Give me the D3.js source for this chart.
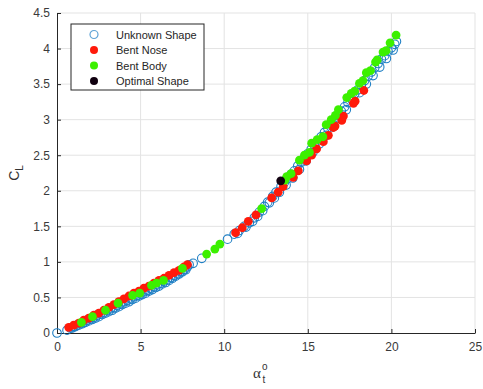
<!DOCTYPE html>
<html>
<head>
<meta charset="utf-8">
<script src="https://cdn.jsdelivr.net/npm/d3@7"></script>
<style>
  body { margin: 0; background: #fff; }
  svg { display: block; font-family: "Liberation Sans", Arial, sans-serif; }
</style>
</head>
<body>
<div id="chart"></div>
<script>
// CL vs alpha_t
const unknownShape = [
  [0, 0], [0.8, 0.07], [1.0, 0.09], [1.2, 0.11], [1.4, 0.13], [1.6, 0.15], [1.8, 0.18], [2.0, 0.2],
  [2.2, 0.22], [2.4, 0.25], [2.6, 0.27], [2.8, 0.29], [3.0, 0.32], [3.2, 0.34], [3.4, 0.36], [3.6, 0.39],
  [3.8, 0.41], [4.0, 0.44], [4.2, 0.46], [4.4, 0.48], [4.6, 0.51], [4.8, 0.53], [5.0, 0.55], [5.2, 0.58],
  [5.4, 0.6], [5.6, 0.63], [5.8, 0.65], [6.0, 0.68], [6.2, 0.7], [6.4, 0.73], [6.6, 0.75], [6.8, 0.78],
  [7.0, 0.81], [7.2, 0.83], [7.4, 0.86], [7.6, 0.89], [7.8, 0.93], [7.9, 0.96], [8.14, 0.98], [8.66, 1.05],
  [10.2, 1.32], [10.6, 1.39], [10.9, 1.44], [11.2, 1.5], [11.5, 1.55], [11.8, 1.62], [12.1, 1.7], [12.4, 1.78],
  [12.6, 1.84], [12.9, 1.92], [13.1, 1.98], [13.4, 2.06], [13.6, 2.12], [13.8, 2.17], [14.0, 2.23], [14.2, 2.28],
  [14.4, 2.35], [14.6, 2.4], [14.8, 2.47], [15.0, 2.52], [15.2, 2.58], [15.4, 2.64], [15.6, 2.7], [15.8, 2.76],
  [16.0, 2.82], [16.2, 2.88], [16.4, 2.95], [16.6, 3.0], [16.8, 3.06], [17.0, 3.12], [17.2, 3.18], [17.4, 3.24],
  [17.6, 3.3], [17.8, 3.36], [18.0, 3.42], [18.2, 3.48], [18.4, 3.55], [18.6, 3.61], [18.8, 3.67], [19.0, 3.73],
  [19.2, 3.79], [19.4, 3.85], [19.6, 3.9], [19.8, 3.96], [20.0, 4.01], [20.2, 4.06], [20.3, 4.1],
  // second, lower row of the band
  [0.6, 0.04], [0.9, 0.07], [1.1, 0.09], [1.3, 0.11], [1.5, 0.13], [1.7, 0.15], [1.9, 0.17], [2.1, 0.19],
  [2.3, 0.21], [2.5, 0.23], [2.7, 0.26], [2.9, 0.28], [3.1, 0.3], [3.3, 0.32], [3.5, 0.35], [3.7, 0.37],
  [3.9, 0.4], [4.1, 0.42], [4.3, 0.44], [4.5, 0.47], [4.7, 0.49], [4.9, 0.52], [5.1, 0.54], [5.3, 0.56],
  [5.5, 0.59], [5.7, 0.61], [5.9, 0.64], [6.1, 0.66], [6.3, 0.69], [6.5, 0.71], [6.7, 0.74], [6.9, 0.77],
  [7.1, 0.8], [7.3, 0.83], [7.5, 0.86], [7.7, 0.89],
  [10.8, 1.4], [11.3, 1.49], [11.7, 1.57], [12.0, 1.64], [12.3, 1.72], [12.7, 1.83], [13.0, 1.9], [13.3, 1.98],
  [13.7, 2.08], [14.1, 2.18], [14.5, 2.3], [14.9, 2.42], [15.3, 2.54], [15.7, 2.66], [16.1, 2.78], [16.5, 2.9],
  [16.9, 3.02], [17.3, 3.14], [17.7, 3.26], [18.1, 3.38], [18.5, 3.5], [18.9, 3.62], [19.3, 3.74], [19.7, 3.86],
  [20.1, 3.98]
];

const bentNose = [
  [0.7, 0.08], [1.0, 0.11], [1.3, 0.14], [1.6, 0.18], [1.9, 0.21], [2.2, 0.25], [2.5, 0.28], [2.8, 0.32],
  [3.1, 0.36], [3.4, 0.4], [3.7, 0.44], [4.0, 0.48], [4.3, 0.52], [4.6, 0.56], [4.9, 0.59], [5.2, 0.63],
  [5.5, 0.66], [5.8, 0.7], [6.1, 0.74], [6.4, 0.77], [6.7, 0.81], [7.0, 0.85], [7.3, 0.88], [7.6, 0.93],
  [7.8, 0.96], [10.68, 1.41], [11.08, 1.48], [11.44, 1.57], [11.9, 1.66], [12.84, 1.9], [13.23, 1.98],
  [13.53, 2.06], [14.13, 2.19], [14.43, 2.28], [14.93, 2.42], [15.23, 2.5], [15.53, 2.59], [15.93, 2.69],
  [16.23, 2.78], [16.53, 2.89], [16.63, 2.91], [17.03, 2.99], [17.13, 3.05], [17.73, 3.23], [17.83, 3.26],
  [18.35, 3.41]
];

const bentBody = [
  [1.46, 0.15], [2.12, 0.23], [2.9, 0.32], [3.65, 0.42], [4.52, 0.53], [4.95, 0.56], [5.65, 0.67],
  [5.95, 0.7], [6.37, 0.74], [7.5, 0.91], [8.95, 1.11], [9.44, 1.18], [9.74, 1.25], [12.24, 1.75],
  [13.63, 2.15], [13.74, 2.2], [14.0, 2.24], [14.5, 2.43], [14.8, 2.5], [15.1, 2.54], [15.23, 2.67],
  [15.56, 2.72], [15.9, 2.76], [16.1, 2.93], [16.4, 3.0], [16.65, 3.06], [16.83, 3.14], [17.33, 3.31],
  [17.6, 3.37], [17.8, 3.4], [18.09, 3.51], [18.3, 3.55], [18.5, 3.66], [18.75, 3.69], [19.05, 3.81],
  [19.15, 3.84], [19.5, 3.95], [19.68, 3.97], [19.92, 4.08], [20.28, 4.19]
];

const optimalShape = [[13.38, 2.14]];

const xTicks = [0, 5, 10, 15, 20, 25];
const yTicks = [0, 0.5, 1, 1.5, 2, 2.5, 3, 3.5, 4, 4.5];
const legendNames = ["Unknown Shape", "Bent Nose", "Bent Body", "Optimal Shape"];

const W = 483, H = 389;
const margin = { top: 13, right: 8, bottom: 56, left: 57 };
const width = W - margin.left - margin.right;
const height = H - margin.top - margin.bottom;

const svg = d3.select("#chart").append("svg")
  .attr("width", W)
  .attr("height", H);

const g = svg.append("g")
  .attr("transform", `translate(${margin.left}, ${margin.top})`);

const x = d3.scaleLinear().domain([0, 25]).range([0, width]);
const y = d3.scaleLinear().domain([0, 4.5]).range([height, 0]);

// grid
g.append("g").selectAll("line")
  .data(xTicks.slice(1))
  .enter().append("line")
  .attr("x1", d => x(d)).attr("x2", d => x(d))
  .attr("y1", 0).attr("y2", height)
  .attr("stroke", "#e3e3e3").attr("stroke-width", 1);

g.append("g").selectAll("line")
  .data(yTicks.slice(1))
  .enter().append("line")
  .attr("x1", 0).attr("x2", width)
  .attr("y1", d => y(d)).attr("y2", d => y(d))
  .attr("stroke", "#e3e3e3").attr("stroke-width", 1);

// axes (ticks pointing inward like matlab)
const xAxis = g.append("g")
  .attr("transform", `translate(0, ${height})`)
  .call(d3.axisBottom(x).tickValues(xTicks).tickSizeInner(-4).tickSizeOuter(0).tickPadding(9));

const yAxis = g.append("g")
  .call(d3.axisLeft(y).tickValues(yTicks).tickSizeInner(-4).tickSizeOuter(0).tickPadding(7)
    .tickFormat(d3.format("")));

[xAxis, yAxis].forEach(ax => {
  ax.select(".domain").attr("stroke", "#262626");
  ax.selectAll(".tick line").attr("stroke", "#262626");
  ax.selectAll("text").attr("fill", "#3a3a3a").style("font-size", "12px")
    .style("font-family", "'Liberation Sans', Arial, sans-serif");
});

// points
const dots = g.append("g");

dots.selectAll(".unknown")
  .data(unknownShape)
  .enter().append("circle")
  .attr("class", "unknown")
  .attr("cx", d => x(d[0])).attr("cy", d => y(d[1]))
  .attr("r", 4.3)
  .attr("fill", "none")
  .attr("stroke", "#1f7fc4")
  .attr("stroke-width", 1.1);

dots.selectAll(".nose")
  .data(bentNose)
  .enter().append("circle")
  .attr("class", "nose")
  .attr("cx", d => x(d[0])).attr("cy", d => y(d[1]))
  .attr("r", 4.4)
  .attr("fill", "#ff1a0a");

dots.selectAll(".body")
  .data(bentBody)
  .enter().append("circle")
  .attr("class", "body")
  .attr("cx", d => x(d[0])).attr("cy", d => y(d[1]))
  .attr("r", 4.4)
  .attr("fill", "#3cf000");

dots.selectAll(".optimal")
  .data(optimalShape)
  .enter().append("circle")
  .attr("class", "optimal")
  .attr("cx", d => x(d[0])).attr("cy", d => y(d[1]))
  .attr("r", 4.4)
  .attr("fill", "#10000f");

// legend
const legend = svg.append("g").attr("transform", "translate(71, 24)");
legend.append("rect")
  .attr("width", 133).attr("height", 66)
  .attr("fill", "#fff").attr("stroke", "#262626").attr("stroke-width", 1);

const legendRows = legend.selectAll(".row")
  .data(legendNames)
  .enter().append("g")
  .attr("transform", (d, i) => `translate(0, ${10.5 + i * 15.5})`);

legendRows.append("circle")
  .attr("cx", 23).attr("cy", 0).attr("r", 4)
  .attr("fill", (d, i) => ["none", "#ff1a0a", "#3cf000", "#10000f"][i])
  .attr("stroke", (d, i) => i === 0 ? "#5fa3d6" : "none")
  .attr("stroke-width", 1.2);

legendRows.append("text")
  .attr("x", 45).attr("y", 4)
  .attr("fill", "#262626")
  .style("font-size", "11px")
  .text(d => d);

// axis labels
const ylab = svg.append("text")
  .attr("transform", "translate(19, 173) rotate(-90)")
  .attr("text-anchor", "middle")
  .attr("fill", "#333")
  .style("font-size", "14px");
ylab.append("tspan").text("C");
ylab.append("tspan").attr("dy", 4).style("font-size", "10px").text("L");

const xlab = svg.append("g").attr("transform", "translate(253, 378)");
xlab.append("text")
  .attr("fill", "#333")
  .style("font-family", "'Liberation Serif', 'Times New Roman', serif")
  .style("font-size", "15px")
  .text("α");
xlab.append("text")
  .attr("x", 9).attr("y", -8)
  .attr("fill", "#333")
  .style("font-size", "10px")
  .text("o");
xlab.append("text")
  .attr("x", 9.5).attr("y", 5)
  .attr("fill", "#333")
  .style("font-size", "10px")
  .text("t");
</script>
</body>
</html>
